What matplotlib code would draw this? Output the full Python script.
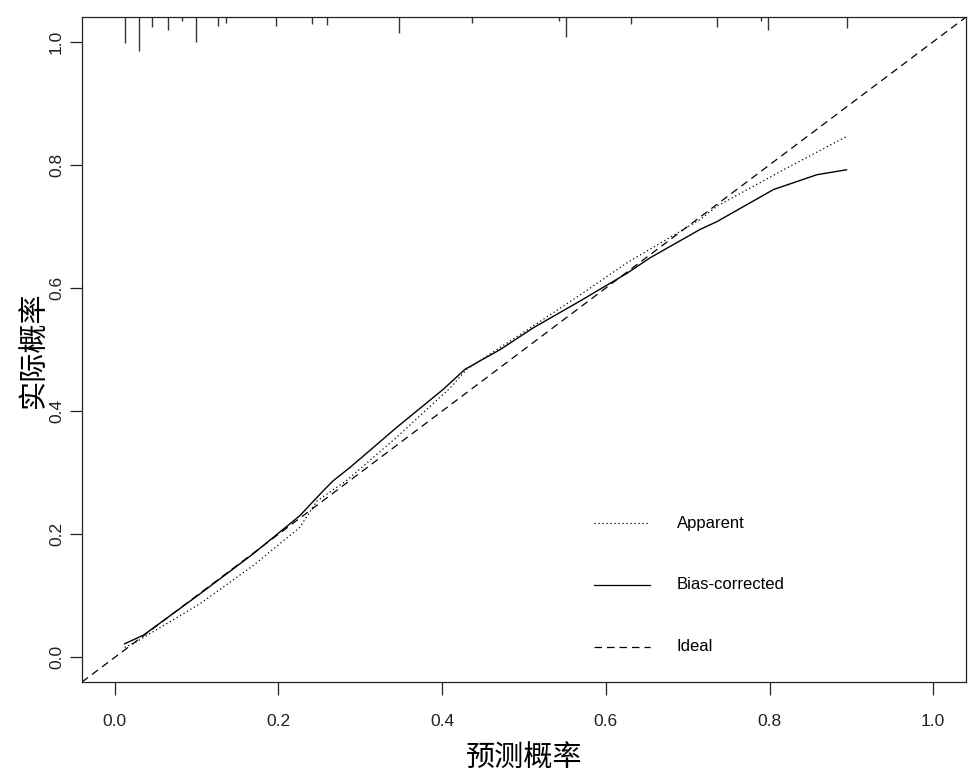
import matplotlib
matplotlib.use("Agg")
import matplotlib.pyplot as plt

# calibration curve
bc_x = [0.012, 0.035, 0.104, 0.169, 0.226, 0.255, 0.267, 0.287, 0.344, 0.401, 0.428,
        0.471, 0.511, 0.570, 0.626, 0.654, 0.715, 0.736, 0.805, 0.858, 0.894]
bc_y = [0.022, 0.036, 0.103, 0.168, 0.230, 0.271, 0.287, 0.308, 0.373, 0.435, 0.468,
        0.500, 0.535, 0.580, 0.624, 0.649, 0.695, 0.708, 0.760, 0.784, 0.792]

app_x = [0.012, 0.026, 0.104, 0.169, 0.226, 0.247, 0.283, 0.344, 0.410, 0.430,
         0.511, 0.570, 0.626, 0.715, 0.736, 0.817, 0.894]
app_y = [0.016, 0.025, 0.087, 0.149, 0.211, 0.254, 0.287, 0.357, 0.438, 0.468,
         0.538, 0.590, 0.641, 0.711, 0.733, 0.792, 0.846]

# spike histogram of predicted probabilities (top rug), heights in y units
rug_x = [0.012, 0.029, 0.046, 0.065, 0.082, 0.099, 0.126, 0.136, 0.197, 0.241,
         0.259, 0.347, 0.436, 0.543, 0.551, 0.631, 0.736, 0.790, 0.798, 0.895]
rug_h = [0.042, 0.055, 0.016, 0.021, 0.006, 0.041, 0.015, 0.010, 0.015, 0.011,
         0.013, 0.026, 0.010, 0.006, 0.032, 0.011, 0.016, 0.006, 0.021, 0.018]

ticks = [0.0, 0.2, 0.4, 0.6, 0.8, 1.0]
tick_labels = ["0.0", "0.2", "0.4", "0.6", "0.8", "1.0"]
legend_labels = ["Apparent", "Bias-corrected", "Ideal"]

cjk = ["Noto Sans CJK SC", "DejaVu Sans"]
plt.rcParams["font.family"] = ["Liberation Sans", "DejaVu Sans"]

fig = plt.figure(figsize=(9.8, 7.77), dpi=100)
ax = fig.add_axes([0.0837, 0.1223, 0.902, 0.8557])

lo, hi = -0.04, 1.04
ax.set_xlim(lo, hi)
ax.set_ylim(lo, hi)

# ideal line
ax.plot([lo, hi], [lo, hi], color="black", lw=0.9, dashes=(6, 4))
ax.plot(app_x, app_y, color="black", lw=0.9, dashes=(1, 2.2))
ax.plot(bc_x, bc_y, color="black", lw=1.0)

# rug
ax.vlines(rug_x, [hi - h for h in rug_h], hi, color="#333333", lw=1.0)

# legend drawn R-style
styles = [dict(dashes=(1, 2.2)), dict(), dict(dashes=(6, 4))]
ys = [0.239, 0.146, 0.053]
for lab, st, yy in zip(legend_labels, styles, ys):
    ax.plot([0.579, 0.643], [yy, yy], transform=ax.transAxes, color="black", lw=0.9, **st)
    ax.text(0.673, yy, lab, transform=ax.transAxes, va="center", ha="left", fontsize=12)

ax.set_xticks(ticks)
ax.set_xticklabels(tick_labels, fontsize=12.5)
ax.set_yticks(ticks)
ax.set_yticklabels(tick_labels, fontsize=12.5, rotation=90, va="center")
ax.tick_params(direction="out", length=9, width=0.9, pad=14, colors="#222222")
ax.tick_params(axis="y", pad=4)
for s in ax.spines.values():
    s.set_linewidth(0.9)
    s.set_color("#222222")

ax.set_xlabel("预测概率", fontsize=21, family=cjk, labelpad=10)
ax.set_ylabel("实际概率", fontsize=21, family=cjk, labelpad=0)

fig.savefig("out.png", dpi=100)
